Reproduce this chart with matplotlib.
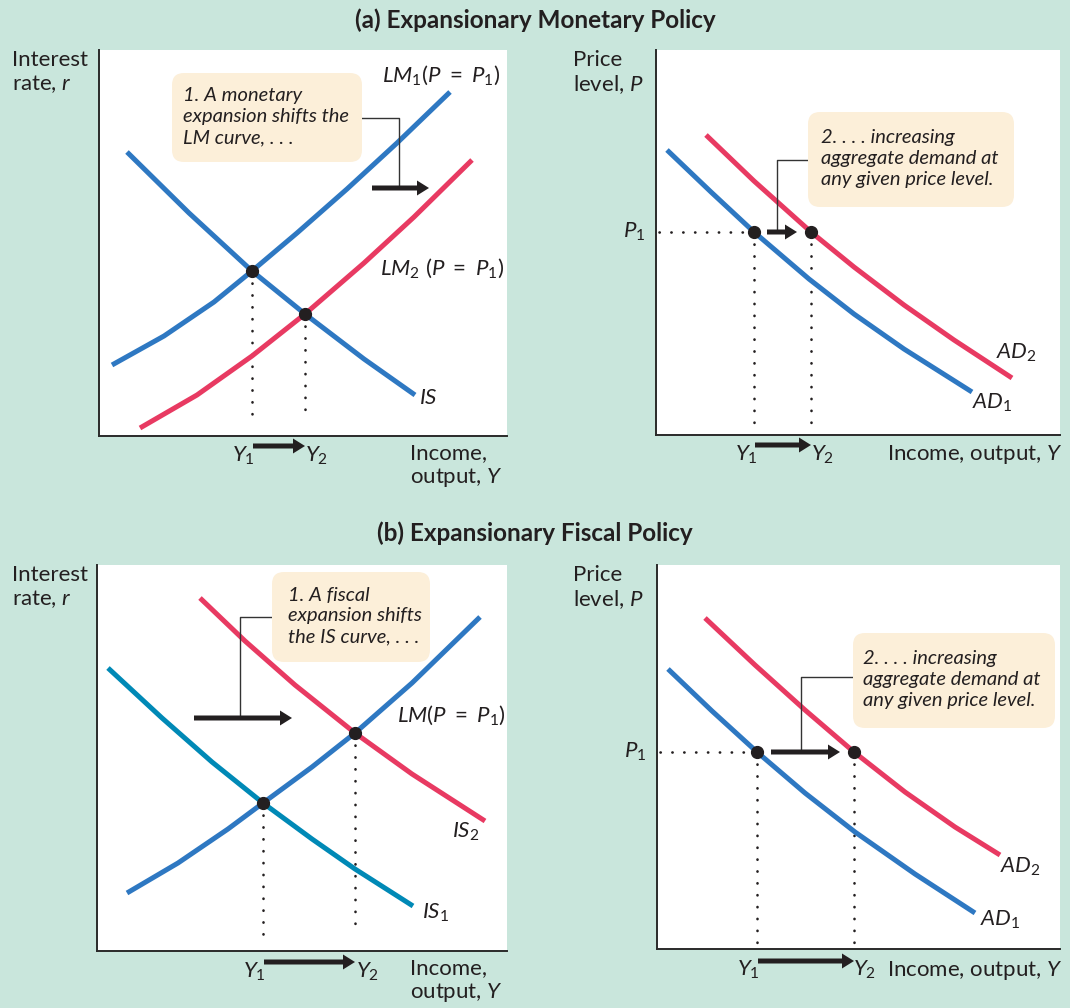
import matplotlib.pyplot as plt
from matplotlib.patches import FancyBboxPatch

plt.rcParams['font.family'] = ['Lato', 'DejaVu Sans']
plt.rcParams['mathtext.fontset'] = 'custom'
plt.rcParams['mathtext.rm'] = 'Lato'
plt.rcParams['mathtext.it'] = 'Lato:italic'
plt.rcParams['mathtext.bf'] = 'Lato:bold'

BG = '#c9e6dc'
BLUE = '#2e78c2'
RED = '#e83a62'
TEAL = '#0089b6'
BOX = '#fcefd9'
INK = '#231f20'

# -----------------------
# DATA (axis units, origin at the axes corner)
# -----------------------

# (a) left: IS-LM, monetary expansion
lm1_x = [13, 65, 115, 153, 198, 248, 298, 351]
lm1_y = [71, 100, 134, 165, 203, 247, 293, 344]
lm2_x = [41, 98, 153, 206, 265, 315, 373]
lm2_y = [8, 41, 80, 122, 173, 219, 276]
is_x = [28, 90, 153, 206, 265, 316]
is_y = [284, 223, 165, 122, 77, 41]
a_eq_x = [153, 206]
a_eq_y = [165, 122]

# (a) right: AD shift
a_ad1_x = [11, 55, 98, 153, 198, 248, 316]
a_ad1_y = [285, 243, 203, 156, 121, 86, 43]
a_ad2_x = [50, 98, 155, 198, 248, 298, 356]
a_ad2_y = [300, 254, 203, 168, 130, 95, 57]
a_p1 = 203
a_ad_eq_x = [98, 155]

# (b) left: IS-LM, fiscal expansion
lm_x = [30, 81, 131, 166, 215, 258, 315, 383]
lm_y = [58, 88, 122, 148, 184, 218, 268, 334]
is1_x = [11, 65, 115, 166, 215, 258, 316]
is1_y = [283, 233, 189, 148, 112, 82, 45]
is2_x = [103, 148, 198, 258, 315, 388]
is2_y = [353, 310, 266, 218, 177, 130]
b_eq_x = [166, 258]
b_eq_y = [148, 218]

# (b) right: AD shift
b_ad1_x = [11, 55, 100, 148, 198, 258, 318]
b_ad1_y = [280, 238, 197, 156, 117, 75, 36]
b_ad2_x = [48, 98, 148, 197, 248, 298, 343]
b_ad2_y = [331, 284, 239, 197, 157, 122, 94]
b_p1 = 197
b_ad_eq_x = [100, 197]

FIG_W, FIG_H = 1070, 1008


def add_axes_px(fig, x0, y0, w, h):
    # x0, y0 = pixel position of the axes origin (bottom-left) in the image
    ax = fig.add_axes([x0 / FIG_W, (FIG_H - y0) / FIG_H, w / FIG_W, h / FIG_H])
    ax.set_xlim(0, w)
    ax.set_ylim(0, h)
    ax.set_facecolor('white')
    for s in ['top', 'right']:
        ax.spines[s].set_visible(False)
    for s in ['left', 'bottom']:
        ax.spines[s].set_color('#2a2a2a')
        ax.spines[s].set_linewidth(1.4)
    ax.set_xticks([])
    ax.set_yticks([])
    return ax


def curve(ax, x, y, color):
    ax.plot(x, y, color=color, lw=3.6, solid_capstyle='butt',
            solid_joinstyle='round', zorder=3)


def dotted(ax, xs, ys):
    ax.plot(xs, ys, color=INK, lw=1.9, dashes=(0.1, 4.4),
            dash_capstyle='round', zorder=2, clip_on=False)


def eq_dot(ax, x, y):
    ax.plot([x], [y], 'o', color=INK, ms=8.5, zorder=5, clip_on=False)


def arrow(ax, x0, x1, y):
    ax.arrow(x0, y, x1 - x0, 0, width=5, head_width=15, head_length=12,
             length_includes_head=True, color=INK, lw=0, zorder=6, clip_on=False)


def note(ax, x0, y0, x1, y1, tx, text):
    box = FancyBboxPatch((x0, y0), x1 - x0, y1 - y0,
                         boxstyle='round,pad=0,rounding_size=12',
                         fc=BOX, ec='none', zorder=4)
    ax.add_patch(box)
    ax.text(tx, (y0 + y1) / 2 + 1, text, fontsize=14.5, fontstyle='italic',
            ha='left', va='center', linespacing=1.28, color=INK, zorder=5)


def leader(ax, xs, ys):
    ax.plot(xs, ys, color='#333333', lw=1.0, zorder=3)


def lab(ax, x, y, s, ha='left', va='center', size=16):
    ax.text(x, y, s, fontsize=size, ha=ha, va=va, color=INK, clip_on=False)


fig = plt.figure(figsize=(FIG_W / 100, FIG_H / 100), dpi=100)
fig.patch.set_facecolor(BG)

fig.text(535 / FIG_W, 1 - 20 / FIG_H, '(a) Expansionary Monetary Policy',
         fontsize=17.5, fontweight='bold', ha='center', va='center', color=INK)
fig.text(535 / FIG_W, 1 - 533 / FIG_H, '(b) Expansionary Fiscal Policy',
         fontsize=17.5, fontweight='bold', ha='center', va='center', color=INK)

EQ = '\\ =\\ '

# -----------------------
# (a) LEFT
# -----------------------
ax = add_axes_px(fig, 99, 436, 408, 386)
curve(ax, lm1_x, lm1_y, BLUE)
curve(ax, is_x, is_y, BLUE)
curve(ax, lm2_x, lm2_y, RED)
for x, y in zip(a_eq_x, a_eq_y):
    dotted(ax, [x, x], [y - 12, 17])
    eq_dot(ax, x, y)
note(ax, 73, 274, 263, 363, 84, '1. A monetary\nexpansion shifts the\nLM curve, . . .')
leader(ax, [263, 300, 300], [318, 318, 250])
arrow(ax, 273, 330, 248)
arrow(ax, a_eq_x[0] + 1, a_eq_x[1], -10)
lab(ax, 283, 361, '$LM_1(P' + EQ + 'P_1)$')
lab(ax, 281, 168, '$LM_2\\ (P' + EQ + 'P_1)$')
lab(ax, 320, 38, '$IS$')
lab(ax, a_eq_x[0] - 9, -20, '$Y_1$', ha='center')
lab(ax, a_eq_x[1] + 12, -20, '$Y_2$', ha='center')
lab(ax, 311, -7, 'Income,\noutput, $Y$', va='top')
lab(ax, -87, 386, 'Interest\nrate, $r$', va='top')

# -----------------------
# (a) RIGHT
# -----------------------
ax = add_axes_px(fig, 656, 435, 404, 385)
curve(ax, a_ad1_x, a_ad1_y, BLUE)
curve(ax, a_ad2_x, a_ad2_y, RED)
dotted(ax, [3, a_ad_eq_x[0] - 6], [a_p1, a_p1])
for x in a_ad_eq_x:
    dotted(ax, [x, x], [a_p1 - 12, 5])
    eq_dot(ax, x, a_p1)
note(ax, 152, 228, 358, 323, 165, '2. . . . increasing\naggregate demand at\nany given price level.')
leader(ax, [152, 121, 121], [275, 275, 206])
arrow(ax, 111, 141, a_p1)
arrow(ax, a_ad_eq_x[0] + 1, a_ad_eq_x[1], -10)
lab(ax, 340, 82, '$AD_2$')
lab(ax, 316, 32, '$AD_1$')
lab(ax, -11, a_p1, '$P_1$', ha='right')
lab(ax, a_ad_eq_x[0] - 8, -20, '$Y_1$', ha='center')
lab(ax, a_ad_eq_x[1] + 12, -20, '$Y_2$', ha='center')
lab(ax, 406, -20, 'Income, output, $Y$', ha='right')
lab(ax, -83, 385, 'Price\nlevel, $P$', va='top')

# -----------------------
# (b) LEFT
# -----------------------
ax = add_axes_px(fig, 97, 951, 410, 386)
curve(ax, lm_x, lm_y, BLUE)
curve(ax, is1_x, is1_y, TEAL)
curve(ax, is2_x, is2_y, RED)
dotted(ax, [b_eq_x[0], b_eq_x[0]], [b_eq_y[0] - 12, 8])
dotted(ax, [b_eq_x[1], b_eq_x[1]], [b_eq_y[1] - 12, 17])
for x, y in zip(b_eq_x, b_eq_y):
    eq_dot(ax, x, y)
note(ax, 175, 289, 333, 379, 191, '1. A fiscal\nexpansion shifts\nthe IS curve, . . .')
leader(ax, [175, 143, 143], [334, 334, 235])
arrow(ax, 97, 195, 233)
arrow(ax, b_eq_x[0] + 1, b_eq_x[1], -11)
lab(ax, 300, 236, '$LM(P' + EQ + 'P_1)$')
lab(ax, 355, 119, '$IS_2$')
lab(ax, 325, 38, '$IS_1$')
lab(ax, b_eq_x[0] - 9, -21, '$Y_1$', ha='center')
lab(ax, b_eq_x[1] + 13, -21, '$Y_2$', ha='center')
lab(ax, 313, -7, 'Income,\noutput, $Y$', va='top')
lab(ax, -85, 386, 'Interest\nrate, $r$', va='top')

# -----------------------
# (b) RIGHT
# -----------------------
ax = add_axes_px(fig, 657, 949, 403, 384)
curve(ax, b_ad1_x, b_ad1_y, BLUE)
curve(ax, b_ad2_x, b_ad2_y, RED)
dotted(ax, [3, b_ad_eq_x[0] - 6], [b_p1, b_p1])
for x in b_ad_eq_x:
    dotted(ax, [x, x], [b_p1 - 12, 4])
    eq_dot(ax, x, b_p1)
note(ax, 196, 221, 398, 316, 206, '2. . . . increasing\naggregate demand at\nany given price level.')
leader(ax, [196, 144, 144], [272, 272, 200])
arrow(ax, 114, 183, b_p1)
arrow(ax, b_ad_eq_x[0] + 1, b_ad_eq_x[1], -12)
lab(ax, 343, 82, '$AD_2$')
lab(ax, 323, 29, '$AD_1$')
lab(ax, -11, b_p1, '$P_1$', ha='right')
lab(ax, b_ad_eq_x[0] - 9, -21, '$Y_1$', ha='center')
lab(ax, b_ad_eq_x[1] + 11, -21, '$Y_2$', ha='center')
lab(ax, 405, -21, 'Income, output, $Y$', ha='right')
lab(ax, -84, 384, 'Price\nlevel, $P$', va='top')

fig.savefig('out.png', dpi=100, facecolor=BG)
